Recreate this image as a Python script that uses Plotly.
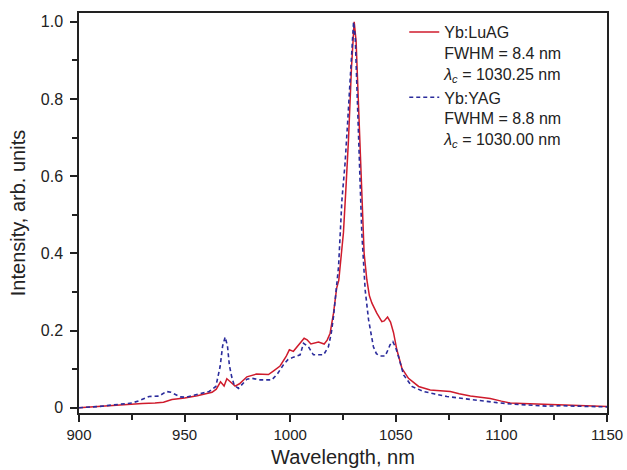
import plotly.graph_objects as go

# Yb:LuAG spectrum
luag_wl = [900, 905, 912, 918, 924, 930, 936, 940, 944, 950, 956, 960, 963, 965, 967, 968.7, 970, 971.5,
           973.9, 976, 979.5, 984, 989.7, 992, 995.2, 998, 999.6, 1001.5, 1003.5, 1006.6, 1008, 1009.8,
           1013.4, 1016.1, 1017.5, 1018.9, 1020.5, 1022, 1023, 1024, 1025.2, 1026.5, 1027.6, 1029, 1030.3,
           1031.2, 1032.3, 1033.9, 1035, 1036.3, 1037.5, 1038.7, 1041, 1043.4, 1044.5, 1046.1, 1047.5,
           1048.9, 1050.5, 1052.9, 1056, 1060.8, 1066.3, 1071, 1075.8, 1080, 1085.3, 1090, 1094.7, 1100,
           1104.2, 1110, 1118.4, 1126, 1134.2, 1142, 1150]
luag_int = [0.0, 0.002, 0.004, 0.006, 0.009, 0.011, 0.012, 0.014, 0.021, 0.025, 0.031, 0.036, 0.040, 0.048,
            0.067, 0.056, 0.075, 0.068, 0.056, 0.062, 0.080, 0.087, 0.086, 0.095, 0.108, 0.132, 0.150, 0.146,
            0.160, 0.180, 0.176, 0.165, 0.170, 0.165, 0.175, 0.193, 0.245, 0.310, 0.330, 0.380, 0.453, 0.580,
            0.695, 0.880, 1.0, 0.95, 0.798, 0.539, 0.400, 0.331, 0.290, 0.271, 0.245, 0.223, 0.225, 0.235,
            0.222, 0.195, 0.150, 0.102, 0.076, 0.055, 0.046, 0.044, 0.042, 0.036, 0.030, 0.027, 0.024, 0.017,
            0.012, 0.011, 0.009, 0.007, 0.005, 0.004, 0.003]

# Yb:YAG spectrum
yag_wl = [900, 905, 909.5, 915.8, 921, 925, 928.4, 933.2, 937.9, 941.4, 943.5, 945.8, 948, 950.5, 953, 956.9,
          961.6, 964.8, 966.8, 968, 969.2, 970.3, 971.2, 972.3, 973.5, 975.5, 977.5, 979.5, 982, 985.8, 991.3,
          994, 996.8, 999, 1001.5, 1004.7, 1006.3, 1007.5, 1008.6, 1011, 1015.8, 1018.1, 1019.5, 1020.5,
          1022.1, 1022.9, 1024.5, 1026, 1027.2, 1028.4, 1029.3, 1030.0, 1030.8, 1031.5, 1032.3, 1033.9, 1035.5,
          1037.1, 1039.4, 1040.8, 1042.6, 1045, 1046.3, 1047.3, 1048.6, 1050, 1051.3, 1053.7, 1057.6, 1063.1,
          1068, 1074.2, 1080, 1086.8, 1092, 1097.9, 1105.8, 1114, 1121.6, 1128, 1134, 1142, 1150]
yag_int = [0.0, 0.001, 0.003, 0.007, 0.009, 0.012, 0.018, 0.029, 0.030, 0.042, 0.040, 0.033, 0.028, 0.027,
           0.030, 0.035, 0.042, 0.055, 0.106, 0.160, 0.183, 0.160, 0.110, 0.080, 0.058, 0.050, 0.062, 0.074,
           0.076, 0.072, 0.072, 0.088, 0.111, 0.125, 0.131, 0.137, 0.167, 0.163, 0.158, 0.137, 0.137, 0.158,
           0.195, 0.236, 0.323, 0.366, 0.539, 0.635, 0.740, 0.842, 0.930, 1.0, 0.96, 0.85, 0.713, 0.453, 0.305,
           0.228, 0.158, 0.140, 0.134, 0.134, 0.150, 0.163, 0.171, 0.155, 0.132, 0.085, 0.055, 0.042, 0.036,
           0.029, 0.025, 0.020, 0.016, 0.013, 0.009, 0.006, 0.004, 0.005, 0.004, 0.003, 0.002]

luag_name = "Yb:LuAG<br>FWHM = 8.4 nm<br><i>λ<sub>c</sub></i> = 1030.25 nm"
yag_name = "Yb:YAG<br>FWHM = 8.8 nm<br><i>λ<sub>c</sub></i> = 1030.00 nm"

x_tickvals = [900, 950, 1000, 1050, 1100, 1150]
x_ticktext = ["900", "950", "1000", "1050", "1100", "1150"]
y_tickvals = [0, 0.2, 0.4, 0.6, 0.8, 1.0]
y_ticktext = ["0", "0.2", "0.4", "0.6", "0.8", "1.0"]

FONT = "Liberation Sans, Arial, Helvetica, sans-serif"
AX = "#222222"

fig = go.Figure()
fig.add_trace(go.Scatter(x=luag_wl, y=luag_int, mode="lines", name=luag_name,
                         line=dict(color="#cf1b2c", width=1.5)))
fig.add_trace(go.Scatter(x=yag_wl, y=yag_int, mode="lines", name=yag_name,
                         line=dict(color="#2b2c9c", width=1.6, dash="4px,3px")))

fig.update_layout(
    template="none",
    width=627, height=470,
    margin=dict(l=79, r=20, t=13, b=57, pad=0),
    paper_bgcolor="white", plot_bgcolor="white",
    font=dict(family=FONT, size=15, color="#222222"),
    showlegend=True,
    legend=dict(x=0.616, y=0.995, xanchor="left", yanchor="top", valign="top",
                bgcolor="rgba(0,0,0,0)", borderwidth=0,
                font=dict(size=16, family=FONT, color="#222222"),
                tracegroupgap=0, itemwidth=30),
    xaxis=dict(range=[900, 1150], tickmode="array", tickvals=x_tickvals, ticktext=x_ticktext,
               ticks="outside", ticklen=7, tickwidth=1.5, tickcolor=AX,
               minor=dict(tickvals=[925, 975, 1025, 1075, 1125], ticks="outside", ticklen=5,
                          tickwidth=1.5, tickcolor=AX, showgrid=False),
               showline=True, linecolor=AX, linewidth=1.5, mirror=True,
               showgrid=False, zeroline=False, automargin=False,
               tickfont=dict(size=15),
               title=dict(text="Wavelength, nm", font=dict(size=20), standoff=8)),
    yaxis=dict(range=[-0.0138, 1.023], tickmode="array", tickvals=y_tickvals, ticktext=y_ticktext,
               ticks="outside", ticklen=7, tickwidth=1.5, tickcolor=AX,
               minor=dict(tickvals=[0.1, 0.3, 0.5, 0.7, 0.9], ticks="outside", ticklen=5,
                          tickwidth=1.5, tickcolor=AX, showgrid=False),
               showline=True, linecolor=AX, linewidth=1.5, mirror=True,
               showgrid=False, zeroline=False, automargin=False,
               tickfont=dict(size=16), ticklabelstandoff=4,
               title=dict(text="Intensity, arb. units", font=dict(size=20), standoff=10)),
)

fig.write_html("out.html", config={"displayModeBar": False},
               post_script="document.body.style.margin='0';")
